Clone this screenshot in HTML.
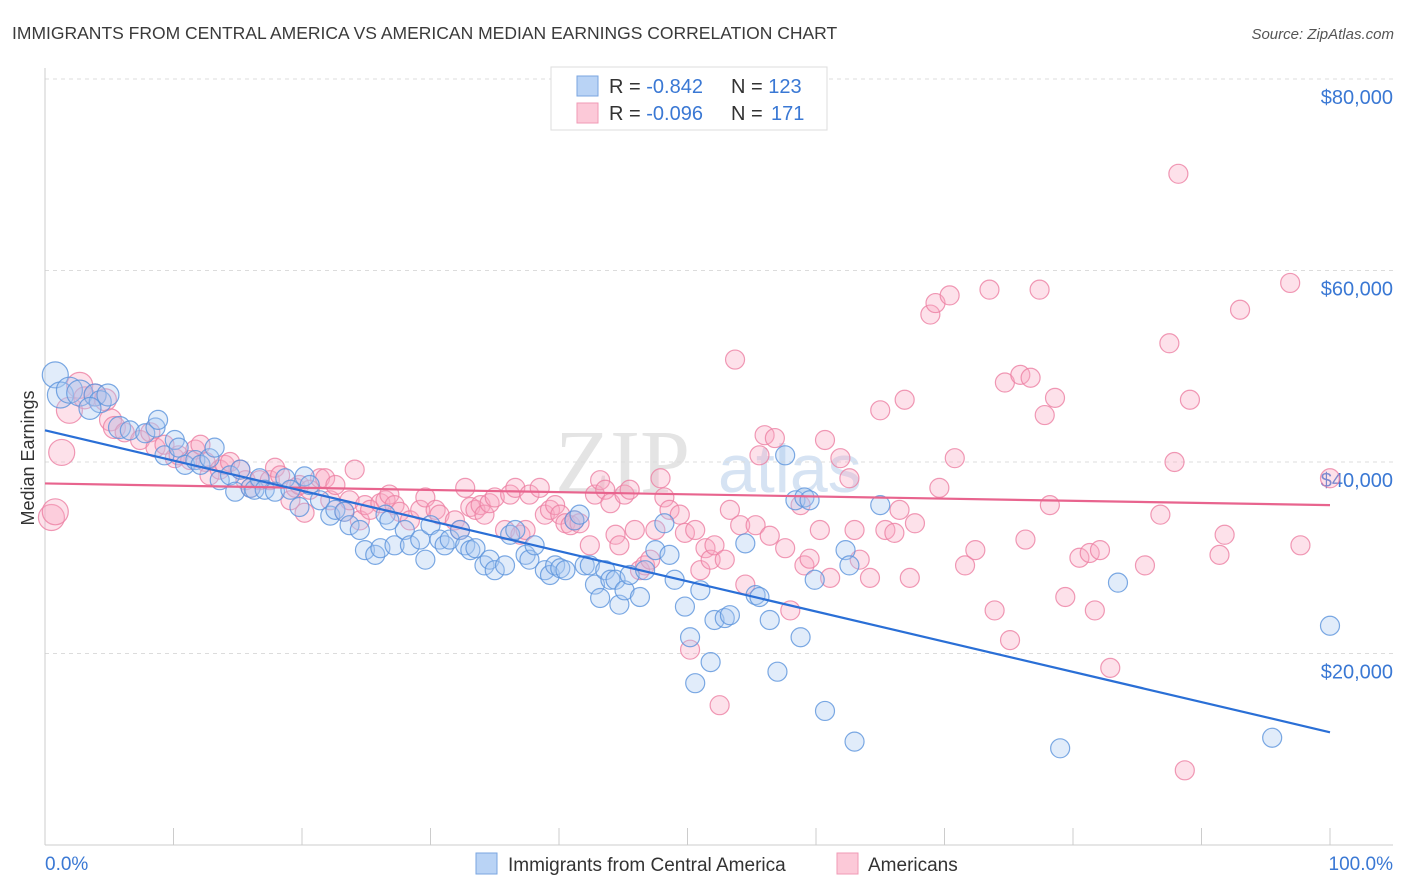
<!DOCTYPE html>
<html><head><meta charset="utf-8"><style>
body{margin:0;background:#fff;font-family:"Liberation Sans",sans-serif;}
#wrap{position:relative;width:1406px;height:892px;overflow:hidden;}
</style></head><body>
<div id="wrap">
<svg id="chart" width="1406" height="892" xmlns="http://www.w3.org/2000/svg">
<text x="12" y="39" font-size="17.5" fill="#3a3a3a">IMMIGRANTS FROM CENTRAL AMERICA VS AMERICAN MEDIAN EARNINGS CORRELATION CHART</text>
<text x="1394" y="39" font-size="15" fill="#555" font-style="italic" text-anchor="end">Source: ZipAtlas.com</text>
<text x="0" y="0" transform="translate(34,458) rotate(-90)" font-size="18" fill="#333" text-anchor="middle">Median Earnings</text>
<g><text x="555" y="492" font-size="90" fill="#e4e4e4" font-family="Liberation Serif,serif">ZIP</text><text x="718" y="492" font-size="68" fill="#d6e3f3">atlas</text></g>
<g id="grid"></g><g id="axes"></g><g id="marks"></g><g id="trend"></g>
<g>
<rect x="551" y="67" width="276" height="63" fill="#fff" stroke="#ddd"/>
<rect x="577" y="76" width="21" height="20" fill="#b9d3f5" stroke="#7aa6e0"/>
<rect x="577" y="103" width="21" height="20" fill="#fcc9d8" stroke="#f09ab6"/>
<text x="609" y="93" font-size="20" fill="#333">R = <tspan fill="#3a78d4">-0.842</tspan><tspan x="731">N = </tspan><tspan fill="#3a78d4">123</tspan></text>
<text x="609" y="120" font-size="20" fill="#333">R = <tspan fill="#3a78d4">-0.096</tspan><tspan x="731">N = </tspan><tspan fill="#3a78d4" x="771">171</tspan></text>
</g>
<g>
<rect x="476" y="853" width="21" height="21" fill="#b9d3f5" stroke="#7aa6e0"/>
<text x="508" y="871" font-size="19" fill="#333">Immigrants from Central America</text>
<rect x="837" y="853" width="21" height="21" fill="#fcc9d8" stroke="#f09ab6"/>
<text x="868" y="871" font-size="19" fill="#333">Americans</text>
</g>
</svg></div>
<script>
const yTicks=[20000,40000,60000,80000];
const yTickLabels=["$20,000","$40,000","$60,000","$80,000"];
const xEndLabels=["0.0%","100.0%"];
const blueX=[0.8,1.2,1.9,2.7,3.9,4.3,4.9,3.5,5.8,6.6,7.8,8.6,8.8,9.3,10.1,10.4,10.9,11.7,12.1,12.8,13.2,13.6,14.4,14.8,15.2,16.0,16.3,16.7,17.1,17.9,18.7,19.1,19.8,20.2,20.6,21.4,22.2,22.6,23.3,23.7,24.5,24.9,25.7,26.1,26.5,26.8,27.2,28.0,28.4,29.2,29.6,30.0,30.7,31.1,31.5,32.3,32.7,33.1,33.5,34.2,34.6,35.0,35.8,36.2,36.6,37.4,37.7,38.1,38.9,39.3,39.7,40.1,40.5,41.2,41.6,42.0,42.4,42.8,43.2,43.6,44.0,44.4,44.7,45.1,45.5,46.3,46.7,47.5,48.2,48.6,49.0,49.8,50.2,50.6,51.0,51.8,52.1,52.9,53.3,54.5,55.3,55.6,56.4,57.0,57.6,58.4,58.8,59.1,59.5,59.9,60.7,62.3,62.6,63.0,65.0,79.0,83.5,95.5,100];
const blueY=[49.1,47.0,47.5,47.2,47.0,46.3,47.0,45.6,43.6,43.3,43.0,43.6,44.4,40.7,42.3,41.5,39.7,40.2,39.7,40.4,41.5,38.1,38.6,36.9,39.2,37.3,37.1,38.3,37.1,36.9,38.3,37.1,35.3,38.5,37.6,36.0,34.4,35.0,34.8,33.4,32.9,30.8,30.3,31.0,34.5,33.9,31.3,32.9,31.3,31.9,29.8,33.4,31.9,31.3,31.9,32.9,31.3,30.8,31.0,29.2,29.8,28.7,29.2,32.4,32.9,30.3,29.8,31.3,28.7,28.2,29.2,28.9,28.7,33.9,34.5,29.2,29.2,27.2,25.8,28.7,27.7,27.7,25.1,26.6,28.2,25.9,28.7,30.8,33.6,30.3,27.7,24.9,21.7,16.9,26.6,19.1,23.5,23.7,24.0,31.5,26.1,25.9,23.5,18.1,40.7,36.0,21.7,36.3,36.0,27.7,14.0,30.8,29.2,10.8,35.5,10.1,27.4,11.2,22.9];
const pinkX=[0.5,0.8,1.3,1.9,2.7,3.1,3.9,4.7,5.1,5.4,6.2,7.4,8.2,8.6,9.3,10.1,10.4,11.3,11.7,12.1,12.5,12.8,13.6,14.0,14.4,15.2,15.6,16.0,16.7,17.5,17.9,18.3,19.1,19.5,19.8,20.2,20.6,21.4,21.8,22.2,22.6,23.3,23.7,24.1,24.5,24.9,25.3,26.1,26.5,26.8,27.2,27.6,28.4,29.2,29.6,30.4,30.7,31.9,32.3,32.7,33.1,33.5,33.9,34.2,34.6,35.0,35.8,36.2,36.6,37.0,37.4,37.7,38.5,38.9,39.3,39.7,40.1,40.5,40.9,41.2,41.6,42.4,42.8,43.2,43.6,44.0,44.4,44.7,45.1,45.5,45.9,46.3,46.7,47.1,47.5,47.9,48.2,48.6,49.4,49.8,50.2,50.6,51.0,51.4,51.8,52.1,52.5,52.9,53.3,53.7,54.1,54.5,55.3,55.6,56.0,56.4,56.8,57.6,58.0,58.8,59.1,59.5,60.3,60.7,61.1,61.9,62.6,63.0,63.4,64.2,65.0,65.4,66.1,66.5,66.9,67.3,67.7,68.9,69.3,69.6,70.4,70.8,71.6,72.4,73.5,73.9,74.7,75.1,75.9,76.3,76.7,77.4,77.8,78.2,78.6,79.4,80.5,81.3,81.7,82.1,82.9,85.6,86.8,87.5,87.9,88.2,88.7,89.1,91.4,91.8,93.0,96.9,97.7,100];
const pinkY=[34.2,34.8,41.0,45.4,48.0,46.7,47.0,46.5,44.4,43.6,43.1,42.3,43.1,41.5,41.8,40.4,40.7,40.2,41.3,41.8,40.0,38.6,39.2,39.7,40.0,39.2,38.1,37.3,38.1,38.1,39.4,38.6,36.0,37.3,37.6,34.7,37.1,38.3,38.3,36.0,37.6,34.8,36.0,39.2,33.9,35.5,35.0,35.7,36.0,36.6,35.5,34.8,33.9,35.0,36.3,35.0,34.5,33.9,32.9,37.3,35.3,35.0,35.5,34.5,35.7,36.3,32.9,36.6,37.3,32.4,32.9,36.6,37.3,34.5,35.0,35.5,34.5,33.6,33.4,33.9,33.6,31.3,36.6,38.1,37.1,35.7,32.4,31.3,36.6,37.1,32.9,28.7,29.2,29.8,32.9,38.3,36.3,35.0,34.5,32.6,20.4,32.9,28.7,31.0,29.8,31.3,14.6,29.8,35.0,50.7,33.4,27.2,33.4,40.7,42.8,32.3,42.5,31.0,24.5,35.5,29.2,29.9,32.9,42.3,27.9,40.4,38.3,32.9,29.8,27.9,45.4,32.9,32.6,35.0,46.5,27.9,33.6,55.4,56.6,37.3,57.4,40.4,29.2,30.8,58.0,24.5,48.3,21.4,49.1,31.9,48.8,58.0,44.9,35.5,46.7,25.9,30.0,30.5,24.5,30.8,18.5,29.2,34.5,52.4,40.0,70.1,7.8,46.5,30.3,32.4,55.9,58.7,31.3,38.3];

const NS="http://www.w3.org/2000/svg";
const L=45,R=1330,T=79,B=845;
const xS=v=>L+(R-L)*v/100;
const yS=v=>B-(B-T)*v/80000;
const mk=(t,a,p)=>{const e=document.createElementNS(NS,t);for(const k in a)e.setAttribute(k,a[k]);document.getElementById(p).appendChild(e);return e;};

yTicks.forEach((v,i)=>{
  const g=mk('line',{x1:L,x2:1393,y1:yS(v),y2:yS(v),stroke:'#dcdcdc','stroke-dasharray':'4,4'},'grid');
  
  
  const t=mk('text',{x:1393,y:yS(v)+25,'font-size':20,fill:'#3a78d4','text-anchor':'end'},'grid');
  t.textContent=yTickLabels[i];
  
  
});
const ax=mk('line',{x1:L,x2:L,y1:68,y2:B,stroke:'#ccc'},'axes');


const bx=mk('line',{x1:L,x2:1393,y1:B,y2:B,stroke:'#ccc'},'axes');


for(let i=0;i<=10;i++){
  const tk=mk('line',{x1:xS(i*10),x2:xS(i*10),y1:828,y2:B,stroke:'#ccc'},'axes');
  
  
}
const x0=mk('text',{x:45,y:870,'font-size':19,fill:'#3a78d4'},'axes');
x0.textContent=xEndLabels[0];


const x1=mk('text',{x:1393,y:870,'font-size':19,fill:'#3a78d4','text-anchor':'end'},'axes');
x1.textContent=xEndLabels[1];



function dots(xs,ys,fill,stroke,name){
  const n=Math.min(xs.length,ys.length);
  for(let i=0;i<n;i++){
    const x=xs[i];
    const r=(x<3)?13:(x<6?11:9.5);
    const c=mk('circle',{cx:xS(x),cy:yS(ys[i]*1000),r:r,fill:fill,'fill-opacity':0.35,stroke:stroke,'stroke-opacity':0.8,'stroke-width':1.2},'marks');
    
    
  }
}
dots(pinkX,pinkY,'#f8a9c2','#ec7fa3','point-americans');
dots(blueX,blueY,'#a9c9f2','#5b93dc','point-immigrants');

function trend(xs,ys,color,name){
  const n=Math.min(xs.length,ys.length);let sx=0,sy=0,sxx=0,sxy=0;
  for(let i=0;i<n;i++){const x=xs[i];sx+=x;sy+=ys[i];sxx+=x*x;sxy+=x*ys[i];}
  const b=(n*sxy-sx*sy)/(n*sxx-sx*sx),a=(sy-b*sx)/n;
  const l=mk('line',{x1:xS(0),y1:yS(a*1000),x2:xS(100),y2:yS((a+b*100)*1000),stroke:color,'stroke-width':2.2},'trend');
  
  
}
trend(pinkX,pinkY,'#e8648e','trend-line-americans');
trend(blueX,blueY,'#2a6fd6','trend-line-immigrants');
</script>
</body></html>
